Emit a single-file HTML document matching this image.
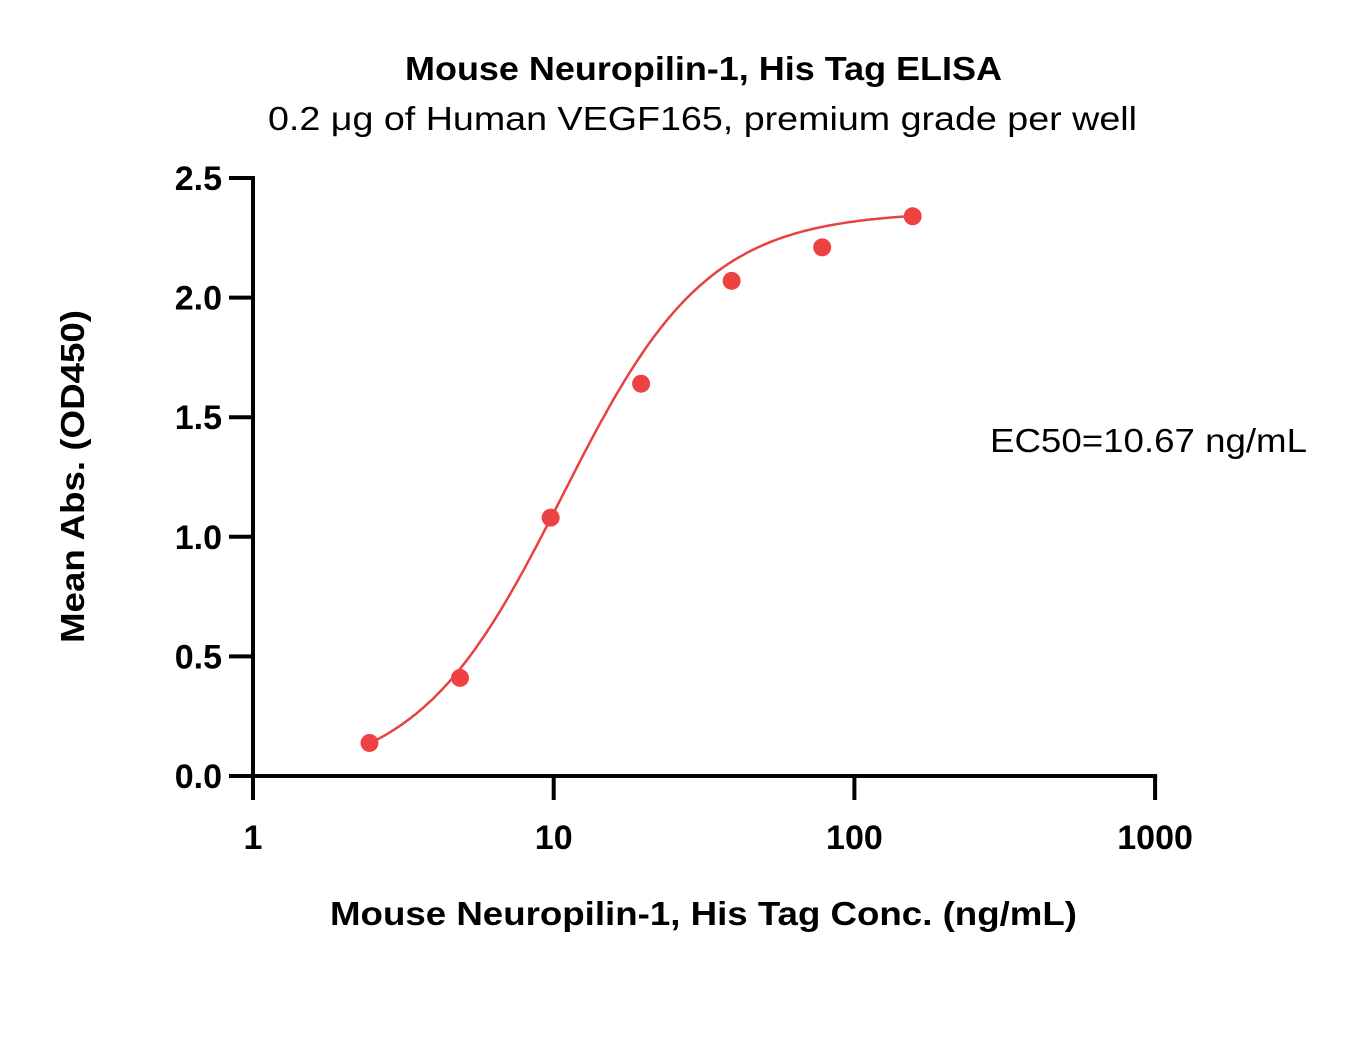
<!DOCTYPE html>
<html><head><meta charset="utf-8"><style>
body{margin:0;background:#fff;}
svg text{font-family:"Liberation Sans",sans-serif;}
</style></head><body>
<svg width="1351" height="1032" viewBox="0 0 1351 1032">
<text x="405" y="80" font-size="33" font-weight="bold" textLength="597" lengthAdjust="spacingAndGlyphs">Mouse Neuropilin-1, His Tag ELISA</text>
<text x="268" y="130" font-size="33" textLength="869" lengthAdjust="spacingAndGlyphs">0.2 μg of Human VEGF165, premium grade per well</text>
<text x="990" y="452" font-size="33" textLength="317" lengthAdjust="spacingAndGlyphs">EC50=10.67 ng/mL</text>
<text x="330" y="925" font-size="33" font-weight="bold" textLength="747" lengthAdjust="spacingAndGlyphs">Mouse Neuropilin-1, His Tag Conc. (ng/mL)</text>
<text transform="translate(84,643) rotate(-90)" font-size="33" font-weight="bold" textLength="333" lengthAdjust="spacingAndGlyphs">Mean Abs. (OD450)</text>
<g id="axes"></g><g id="marks"></g>
</svg>
<script>
const xs=[2.44,4.88,9.77,19.53,39.06,78.13,156.25];
const ys=[0.138,0.41,1.08,1.64,2.07,2.21,2.34];
const yTicks=[0,0.5,1,1.5,2,2.5];
const yTickLabels=["0.0","0.5","1.0","1.5","2.0","2.5"];
const xTicks=[1,10,100,1000];
const xTickLabels=["1","10","100","1000"];
const fitParams=[-0.02,2.36,10.67,1.8];
const NS="http://www.w3.org/2000/svg";
const X=v=>253+Math.log10(v)*300.7;
const Y=v=>776-v*239.2;
function mk(tag,attrs,parent){const e=document.createElementNS(NS,tag);for(const k in attrs)e.setAttribute(k,attrs[k]);parent.appendChild(e);return e;}
const ax=document.getElementById('axes'),mg=document.getElementById('marks');
let e=mk('line',{x1:253,y1:Y(2.5)-2,x2:253,y2:778,stroke:'#000','stroke-width':4},ax);

e=mk('line',{x1:251,y1:776,x2:X(1000)+2,y2:776,stroke:'#000','stroke-width':4},ax);

yTicks.forEach((t,i)=>{
 let l=mk('line',{x1:229,y1:Y(t),x2:253,y2:Y(t),stroke:'#000','stroke-width':4},ax);
 
 let tx=mk('text',{x:222,y:Y(t)+12,'text-anchor':'end','font-size':34,'font-weight':'bold'},ax);tx.textContent=yTickLabels[i];
 
});
xTicks.forEach((t,i)=>{
 let l=mk('line',{x1:X(t),y1:776,x2:X(t),y2:800,stroke:'#000','stroke-width':4},ax);
 
 let tx=mk('text',{x:X(t),y:849,'text-anchor':'middle','font-size':34,'font-weight':'bold'},ax);tx.textContent=xTickLabels[i];
 
});
const [b,tp,ec,h]=fitParams;
let d='';const lo=Math.log10(xs[0]),hi=Math.log10(xs[xs.length-1]);
for(let i=0;i<=200;i++){const lx=lo+(hi-lo)*i/200,x=Math.pow(10,lx);const y=b+(tp-b)/(1+Math.pow(ec/x,h));d+=(i?'L':'M')+X(x).toFixed(1)+','+Y(y).toFixed(1);}
e=mk('path',{d:d,fill:'none',stroke:'#e8413f','stroke-width':2.5},mg);

xs.forEach((x,i)=>{let c=mk('circle',{cx:X(x),cy:Y(ys[i]),r:9,fill:'#ee4141'},mg);
 });
</script>
</body></html>
